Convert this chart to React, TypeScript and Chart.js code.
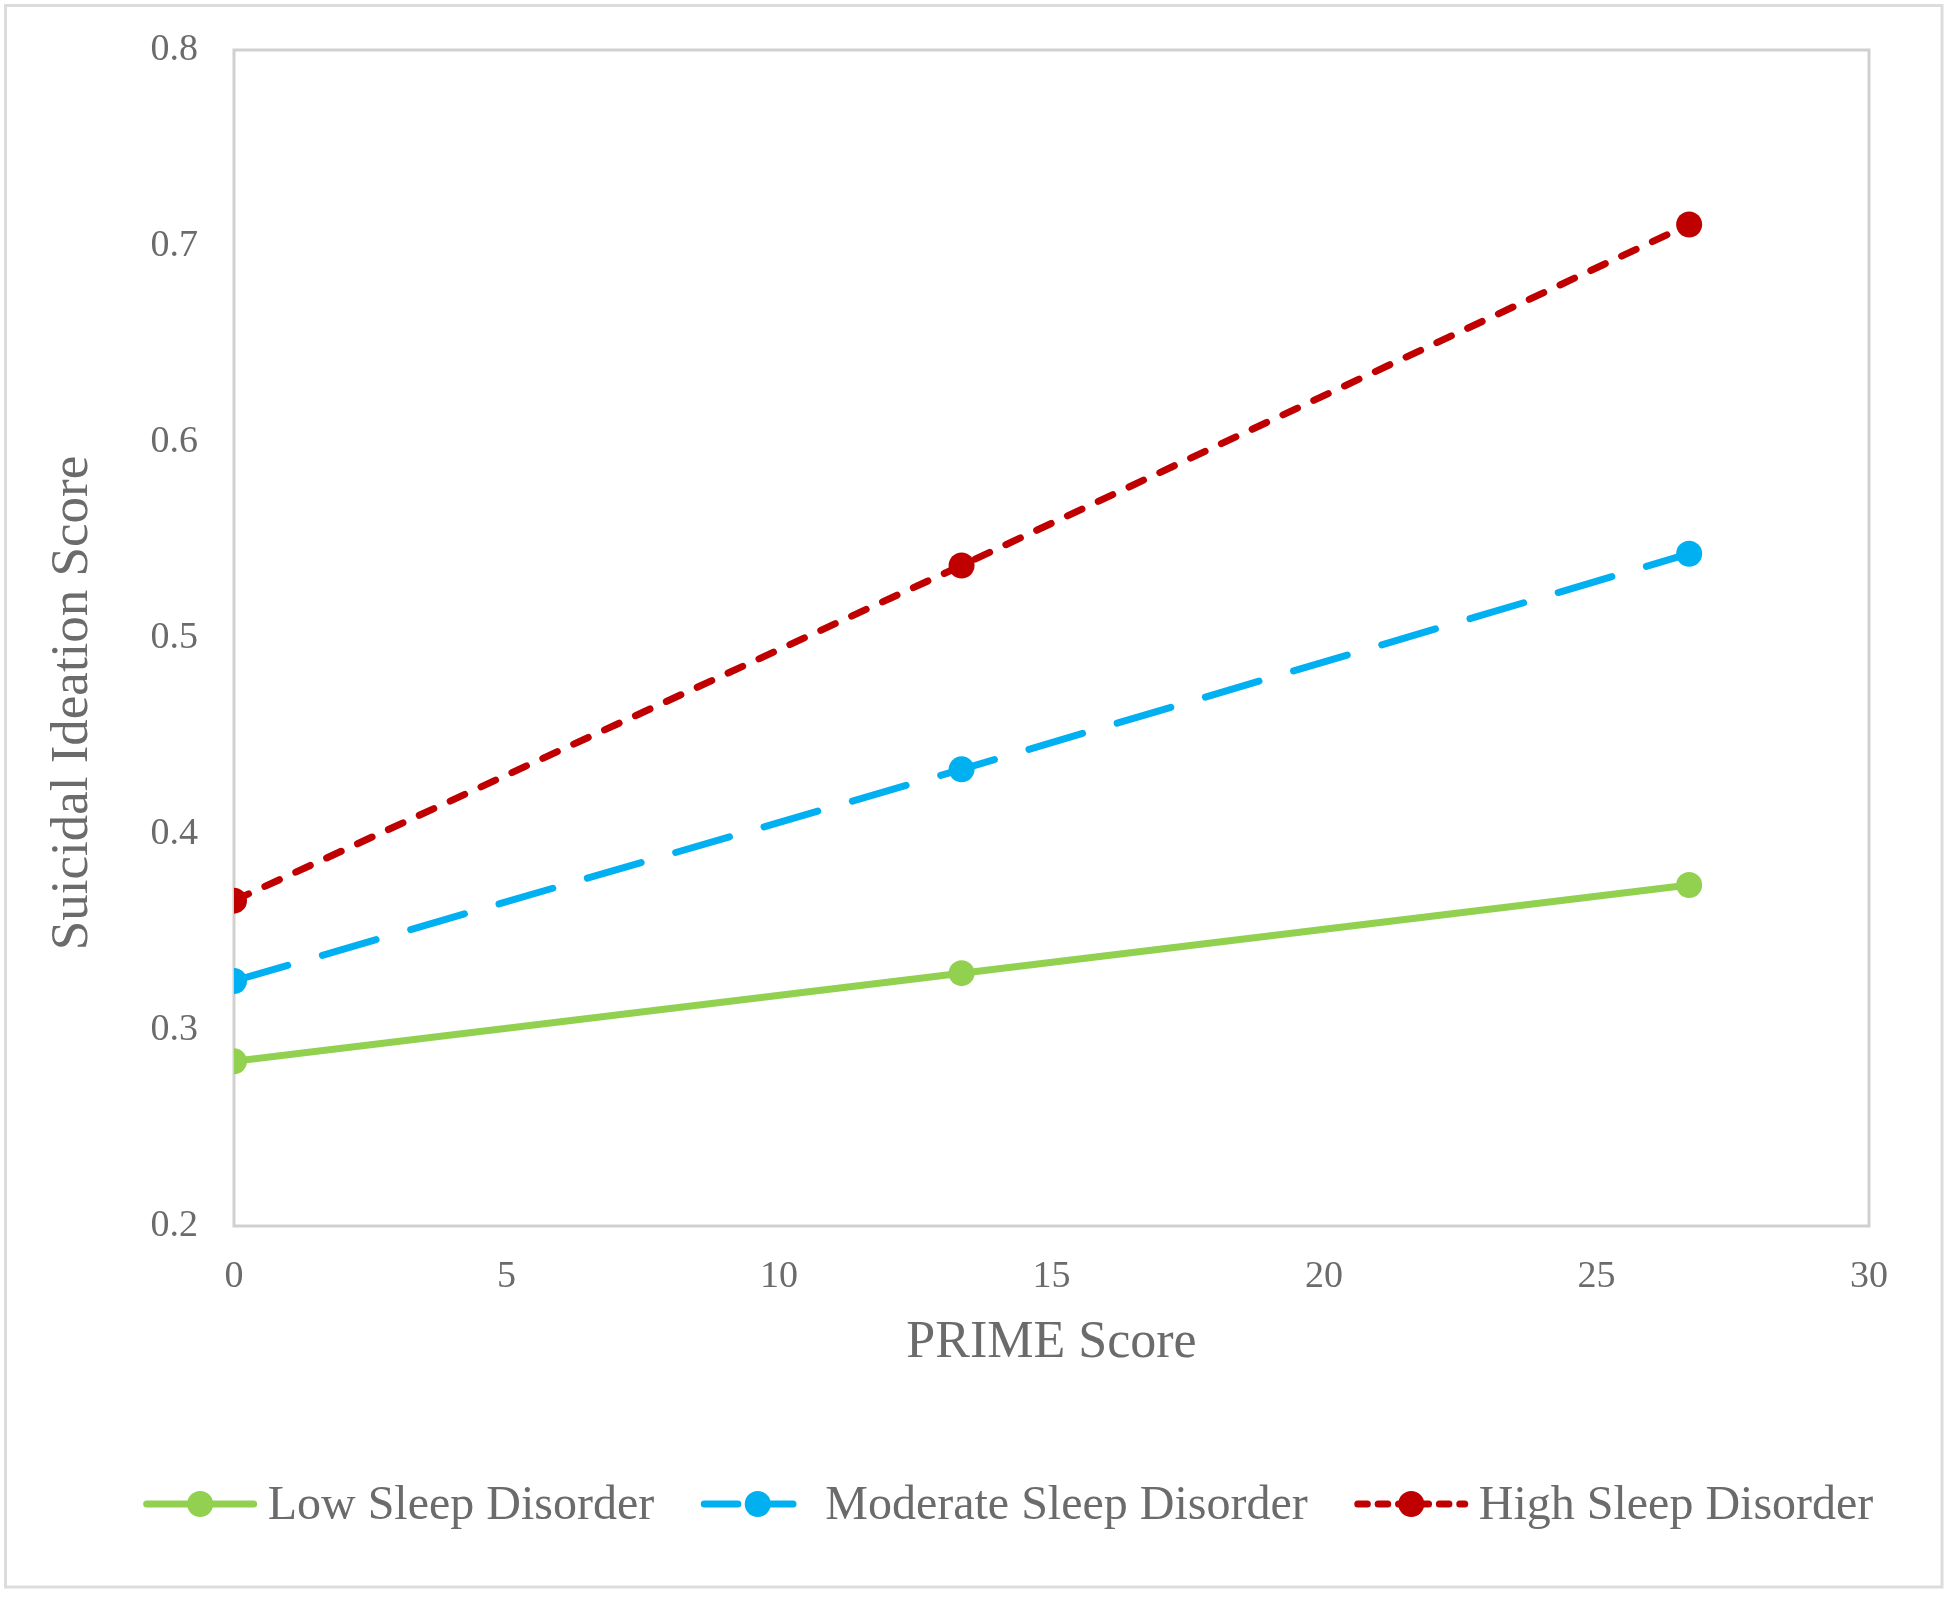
import React, { useEffect, useRef } from "react";
import { Chart, registerables } from "chart.js";

Chart.register(...registerables);

const primeScores = [0, 13.35, 26.7];
const lowSleep = [0.284, 0.329, 0.374];
const moderateSleep = [0.325, 0.433, 0.543];
const highSleep = [0.366, 0.537, 0.711];

const seriesLabels = ["Low Sleep Disorder", "Moderate Sleep Disorder", "High Sleep Disorder"];
const seriesColors = ["#92D050", "#00B0F0", "#C00000"];
const seriesDashes: number[][] = [[], [56, 36], [16, 18]];

const xTickMin = 0;
const xTickMax = 30;
const xTickStep = 5;
const yTickMin = 0.2;
const yTickMax = 0.8;
const yTickStep = 0.1;

const xTitle = "PRIME Score";
const yTitle = "Suicidal Ideation Score";

const FONT = "'Liberation Serif', 'Times New Roman', serif";
const TEXT_COLOR = "#6b6b6b";

export default function App() {
  const ref = useRef<HTMLCanvasElement | null>(null);

  useEffect(() => {
    document.body.style.margin = "0";
    const canvas = ref.current;
    if (!canvas) return;

    const toPoints = (ys: number[]) => primeScores.map((x, i) => ({ x, y: ys[i] }));
    const allSeries = [lowSleep, moderateSleep, highSleep];

    const framePlugin = {
      id: "frames",
      beforeDraw(chart: any) {
        const ctx = chart.ctx;
        ctx.save();
        ctx.fillStyle = "#ffffff";
        ctx.fillRect(0, 0, chart.width, chart.height);
        ctx.strokeStyle = "#dcdcdc";
        ctx.lineWidth = 3;
        ctx.strokeRect(5.5, 5.5, 1942 - 5.5, 1587 - 5.5);
        ctx.restore();
      },
      beforeDatasetsDraw(chart: any) {
        const { left, right, top, bottom } = chart.chartArea;
        const ctx = chart.ctx;
        ctx.save();
        ctx.strokeStyle = "#d0d0d0";
        ctx.lineWidth = 3;
        ctx.strokeRect(left, top, right - left, bottom - top);
        // y-axis title
        ctx.fillStyle = TEXT_COLOR;
        ctx.font = `53px ${FONT}`;
        ctx.textAlign = "center";
        ctx.textBaseline = "middle";
        ctx.translate(73, 703);
        ctx.rotate(-Math.PI / 2);
        ctx.fillText(yTitle, 0, 0);
        ctx.restore();
      },
    };

    const legendPlugin = {
      id: "customLegend",
      afterDraw(chart: any) {
        const ctx = chart.ctx;
        ctx.save();
        ctx.font = `48px ${FONT}`;
        const sampleW = 115;
        const textGap = 10;
        const itemGap = 46;
        const widths = seriesLabels.map((l) => ctx.measureText(l).width);
        const total =
          widths.reduce((a, b) => a + b, 0) + seriesLabels.length * (sampleW + textGap) + itemGap * (seriesLabels.length - 1);
        let x = 1008 - total / 2;
        const y = 1504;
        seriesLabels.forEach((label, i) => {
          ctx.strokeStyle = seriesColors[i];
          ctx.fillStyle = seriesColors[i];
          ctx.lineWidth = 7;
          ctx.lineCap = "round";
          ctx.setLineDash(seriesDashes[i].length ? [seriesDashes[i][0] * 0.6, seriesDashes[i][1] * 0.6] : []);
          ctx.beginPath();
          ctx.moveTo(x + 4, y);
          ctx.lineTo(x + sampleW - 4, y);
          ctx.stroke();
          ctx.setLineDash([]);
          ctx.beginPath();
          ctx.arc(x + sampleW / 2, y, 13, 0, Math.PI * 2);
          ctx.fill();
          ctx.fillStyle = TEXT_COLOR;
          ctx.textBaseline = "middle";
          ctx.textAlign = "left";
          ctx.fillText(label, x + sampleW + textGap, y + 2);
          x += sampleW + textGap + widths[i] + itemGap;
        });
        ctx.restore();
      },
    };

    const chart = new Chart(canvas, {
      type: "scatter",
      data: {
        datasets: seriesLabels.map((label, i) => ({
          label,
          data: toPoints(allSeries[i]),
          showLine: true,
          borderColor: seriesColors[i],
          backgroundColor: seriesColors[i],
          borderWidth: 7,
          borderDash: seriesDashes[i],
          borderCapStyle: "round",
          pointRadius: 13,
          pointHoverRadius: 13,
          pointBorderWidth: 0,
          pointBackgroundColor: seriesColors[i],
          tension: 0,
        })),
      },
      options: {
        responsive: false,
        animation: false,
        devicePixelRatio: 1,
        layout: { padding: { left: 0, top: 50, right: 81, bottom: 198 } },
        plugins: {
          legend: { display: false },
          tooltip: { enabled: false },
        },
        scales: {
          x: {
            type: "linear",
            min: xTickMin,
            max: xTickMax,
            grid: { display: false, drawTicks: false },
            border: { display: false },
            ticks: {
              stepSize: xTickStep,
              padding: 28,
              color: TEXT_COLOR,
              font: { family: FONT, size: 38 },
            },
            title: {
              display: true,
              text: xTitle,
              color: TEXT_COLOR,
              font: { family: FONT, size: 52 },
              padding: { top: 0, bottom: 25 },
            },
            afterFit(scale: any) {
              scale.height = 174;
              scale.paddingLeft = 0;
              scale.paddingRight = 0;
            },
          },
          y: {
            type: "linear",
            min: yTickMin,
            max: yTickMax,
            grid: { display: false, drawTicks: false },
            border: { display: false },
            ticks: {
              stepSize: yTickStep,
              padding: 36,
              color: TEXT_COLOR,
              font: { family: FONT, size: 38 },
              callback: (v: any) => Number(v).toFixed(1),
            },
            title: { display: false },
            afterFit(scale: any) {
              scale.width = 234;
              scale.paddingTop = 0;
              scale.paddingBottom = 0;
            },
          },
        },
      } as any,
      plugins: [framePlugin, legendPlugin],
    });

    return () => chart.destroy();
  }, []);

  return (
    <div style={{ width: 1950, height: 1598, position: "relative" }}>
      <canvas ref={ref} width={1950} height={1598} style={{ display: "block" }} />
    </div>
  );
}
